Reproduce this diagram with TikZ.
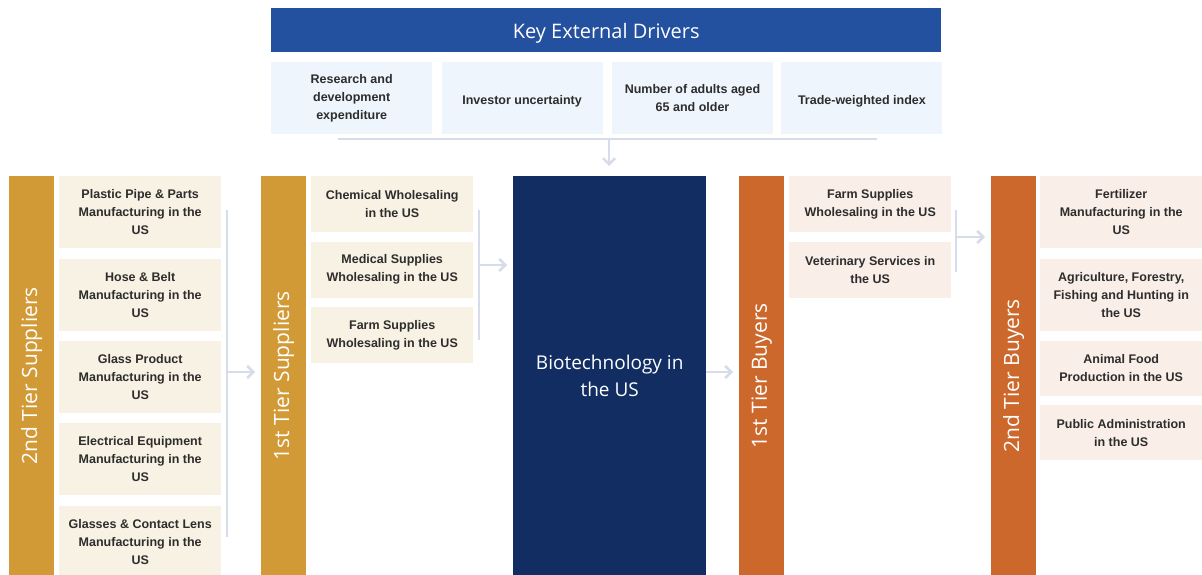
\documentclass[tikz,border=0pt]{standalone}
\usepackage{fontspec}
\setmainfont{Liberation Sans}
\newfontfamily\titlefont{Open Sans}
\usetikzlibrary{arrows.meta,positioning}

\definecolor{keyblue}{RGB}{35,80,159}
\definecolor{driverbg}{RGB}{238,245,252}
\definecolor{supplygold}{RGB}{210,154,54}
\definecolor{supplybg}{RGB}{248,242,228}
\definecolor{corenavy}{RGB}{17,45,98}
\definecolor{buyorange}{RGB}{205,104,44}
\definecolor{buybg}{RGB}{249,238,232}
\definecolor{linkgrey}{RGB}{214,220,235}
\definecolor{boxtext}{RGB}{45,45,45}

\tikzset{
  headbar/.style={
    % The shape:
    rectangle,minimum width=670pt,minimum height=44pt,inner sep=0pt,
    % The filling:
    fill=keyblue,
    % The text, set a little low in the bar:
    text=white,font=\titlefont\fontsize{20}{24}\selectfont,
    text height=20pt,text depth=4pt}}
\tikzset{
  driver/.style={
    rectangle,minimum width=161pt,minimum height=72pt,inner sep=0pt,
    fill=driverbg,
    align=center,text=boxtext,font=\bfseries\fontsize{12.5}{18}\selectfont,
    % pushes the lines down a bit
    execute at begin node={\rule{0pt}{15pt}}}}
\tikzset{
  tierbar/.style={
    % The shape:
    rectangle,minimum width=45pt,minimum height=399pt,inner sep=0pt,
    anchor=north west},
  barlabel/.style={
    rotate=90,text=white,font=\titlefont\fontsize{21}{25}\selectfont}}
\tikzset{
  item/.style={
    % The shape:
    rectangle,minimum width=162pt,inner sep=0pt,
    % The text:
    align=center,text=boxtext,font=\bfseries\fontsize{12.5}{18}\selectfont},
  supply/.style={item,fill=supplybg},
  buy/.style={item,fill=buybg},
  tall/.style={minimum height=72pt},
  short/.style={minimum height=56pt}}
\tikzset{
  core/.style={
    rectangle,minimum width=193pt,minimum height=399pt,inner sep=0pt,
    fill=corenavy,
    align=center,text=white,font=\titlefont\fontsize{19}{27}\selectfont}}
\tikzset{
  bracket/.style={draw=linkgrey,line width=2.5pt},
  flow/.style={bracket,->,>={Straight Barb[length=6pt,width=12pt]},
    shorten >=6pt}}

\begin{document}
\begin{tikzpicture}[x=1pt,y=-1pt]
	\useasboundingbox (0,0) rectangle (1202,575);
	% Banner and the drivers under it
	\node[headbar,anchor=north west] (head) at (271,8) {Key External Drivers};
	\node[driver,anchor=north west] (rd) at (271,62) {Research and\\development\\expenditure};
	\node[driver,right=9pt of rd] (inv) {Investor uncertainty};
	\node[driver,right=9pt of inv] (age) {Number of adults aged\\65 and older};
	\node[driver,right=8pt of age] (twi) {Trade-weighted index};

	% Supply side
	\node[tierbar,fill=supplygold] (s2bar) at (9,176) {};
	\node[barlabel] (s2lab) at (s2bar.center) {2nd Tier Suppliers};
	\node[supply,tall,anchor=north west] (pipe) at (59,176) {Plastic Pipe \& Parts\\Manufacturing in the\\US};
	\node[supply,tall,below=10pt of pipe] (hose) {Hose \& Belt\\Manufacturing in the\\US};
	\node[supply,tall,below=10pt of hose] (glass) {Glass Product\\Manufacturing in the\\US};
	\node[supply,tall,below=10pt of glass] (elec) {Electrical Equipment\\Manufacturing in the\\US};
	\node[supply,tall,below=10pt of elec] (lens) {Glasses \& Contact Lens\\Manufacturing in the\\US};

	\node[tierbar,fill=supplygold] (s1bar) at (261,176) {};
	\node[barlabel] (s1lab) at (s1bar.center) {1st Tier Suppliers};
	\node[supply,short,anchor=north west] (chem) at (311,176) {Chemical Wholesaling\\in the US};
	\node[supply,short,below=9pt of chem] (med) {Medical Supplies\\Wholesaling in the US};
	\node[supply,short,below=9pt of med] (farm) {Farm Supplies\\Wholesaling in the US};

	% The industry itself
	\node[core,anchor=north west] (bio) at (513,176) {Biotechnology in\\the US};

	% Demand side
	\node[tierbar,fill=buyorange] (b1bar) at (739,176) {};
	\node[barlabel] (b1lab) at (b1bar.center) {1st Tier Buyers};
	\node[buy,short,anchor=north west] (farmb) at (789,176) {Farm Supplies\\Wholesaling in the US};
	\node[buy,short,below=9pt of farmb] (vet) {Veterinary Services in\\the US};

	\node[tierbar,fill=buyorange] (b2bar) at (991,176) {};
	\node[barlabel] (b2lab) at (b2bar.center) {2nd Tier Buyers};
	\node[buy,tall,anchor=north west] (fert) at (1040,176) {Fertilizer\\Manufacturing in the\\US};
	\node[buy,tall,below=10pt of fert] (agri) {Agriculture, Forestry,\\Fishing and Hunting in\\the US};
	\node[buy,minimum height=55pt,below=10pt of agri] (feed) {Animal Food\\Production in the US};
	\node[buy,minimum height=55pt,below=9pt of feed] (pub) {Public Administration\\in the US};

	% Drivers into the industry
	\coordinate (drvL) at (338,139);
	\coordinate (drvR) at (877,139);
	\coordinate (drvM) at (609,139);
	\draw[bracket] (drvL) -- (drvR);
	\draw[flow,shorten >=10pt] (drvM) -- (drvM |- bio.north);

	% Lines out of the 2nd tier suppliers
	\coordinate (s2top) at (227,210);
	\coordinate (s2bot) at (227,537);
	\coordinate (s2mid) at (227,372);
	\draw[bracket] (s2top) -- (s2bot);
	\draw[flow] (s2mid) -- (s2mid -| s1bar.west);

	% Lines out of the 1st tier suppliers
	\coordinate (s1top) at (479,210);
	\coordinate (s1bot) at (479,340);
	\coordinate (s1mid) at (479,265);
	\draw[bracket] (s1top) -- (s1bot);
	\draw[flow] (s1mid) -- (s1mid -| bio.west);

	% Line out of the industry
	\coordinate (bioout) at (bio.east |- s2mid);
	\draw[flow] (bioout) -- (bioout -| b1bar.west);

	% Lines out of the 1st tier buyers
	\coordinate (b1top) at (956,210);
	\coordinate (b1bot) at (956,272);
	\coordinate (b1mid) at (956,237);
	\draw[bracket] (b1top) -- (b1bot);
	\draw[flow] (b1mid) -- (b1mid -| b2bar.west);
\end{tikzpicture}
\end{document}
